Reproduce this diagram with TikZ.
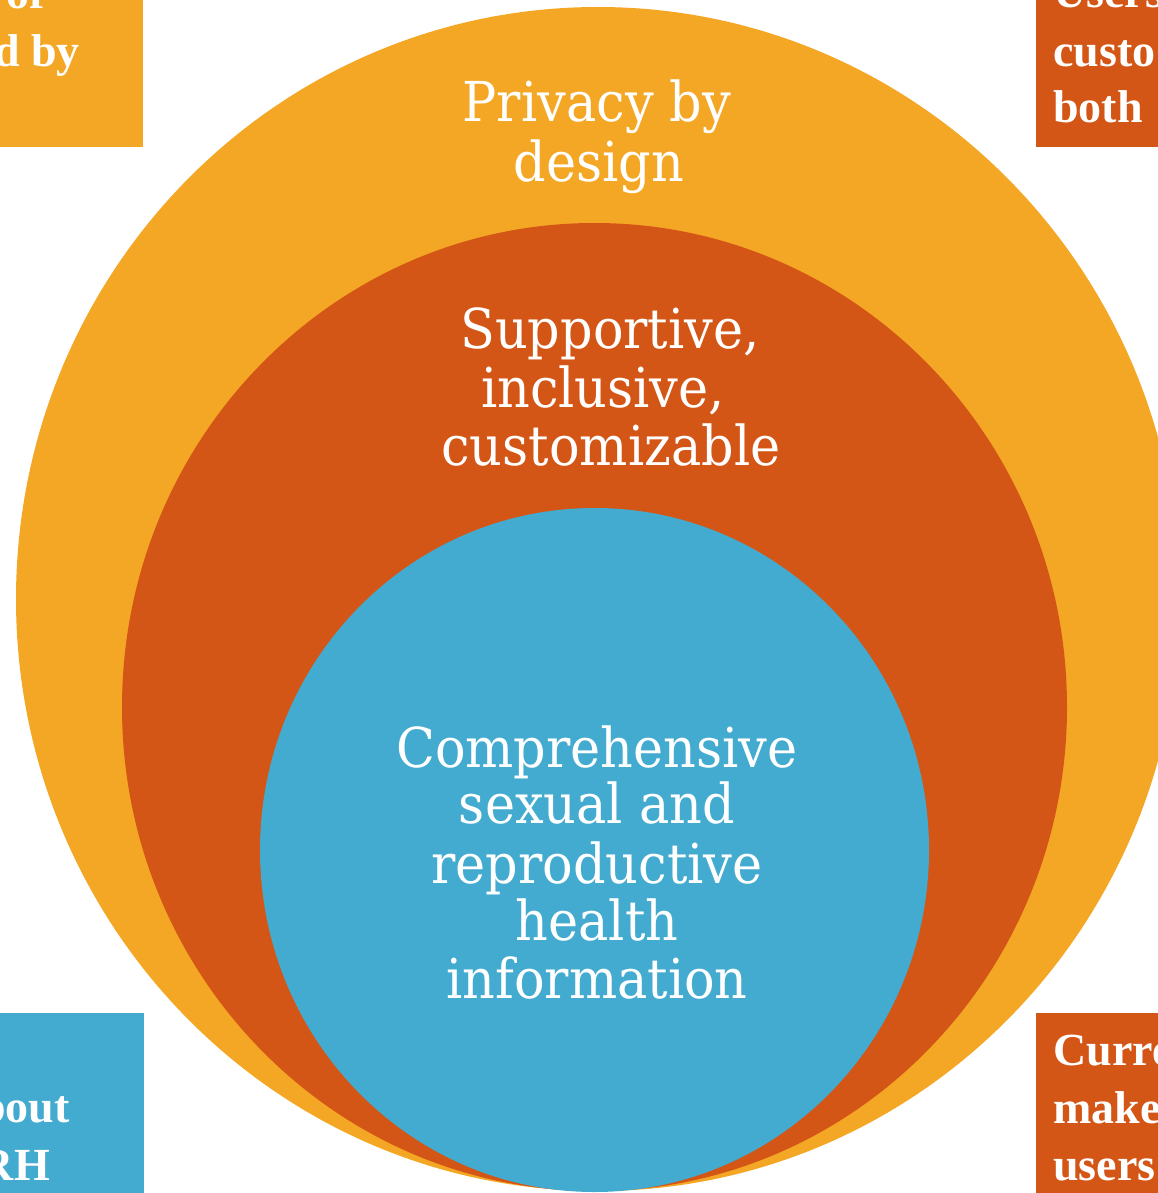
\documentclass[tikz,border=0pt]{standalone}
\usepackage{fontspec}
\setmainfont{Liberation Serif}
\newfontfamily\circfont[FakeStretch=0.925]{DejaVu Serif}
\definecolor{ringA}{RGB}{244,167,36}
\definecolor{ringB}{RGB}{212,86,22}
\definecolor{ringC}{RGB}{67,170,208}
\begin{document}
\begin{tikzpicture}[x=1pt,y=-1pt,
  circtext/.style={text=white, font=\circfont\fontsize{55}{58}\selectfont, inner sep=0pt, anchor=base},
  boxtext/.style={text=white, font=\bfseries\fontsize{46}{57}\selectfont, inner sep=0pt}]
\useasboundingbox (0,0) rectangle (1158,1193);
\clip (0,0) rectangle (1158,1193);
% corner boxes
\fill[ringA] (0,0) rectangle (143,147);
\fill[ringB] (1036,0) rectangle (1158,147);
\fill[ringC] (0,1013) rectangle (144,1193);
\fill[ringB] (1036,1013) rectangle (1158,1193);
% rings
\fill[ringA] (598,599) ellipse [x radius=582pt, y radius=592pt];
\fill[ringB] (594.5,707) ellipse [x radius=472.5pt, y radius=484pt];
\fill[ringC] (594.5,850) ellipse [x radius=334.5pt, y radius=342pt];
% ring texts
\node[circtext] (p1) at (597,122) {Privacy by};
\node[circtext] (p2) at (599,182) {design};
\node[circtext] (s1) at (610,348) {Supportive,};
\node[circtext] (s2) at (603,407) {inclusive,};
\node[circtext] (s3) at (611,465) {customizable};
\node[circtext] (c1) at (597,767) {Comprehensive};
\node[circtext] (c2) at (597,823) {sexual and};
\node[circtext] (c3) at (597,883) {reproductive};
\node[circtext] (c4) at (597,940) {health};
\node[circtext] (c5) at (597,998) {information};
% corner texts
\node[boxtext, anchor=base east] (tl1) at (45,9) {of};
\node[boxtext, anchor=base east] (tl2) at (80,67) {d by};
\node[boxtext, anchor=base west] (tr1) at (1053,8) {Users};
\node[boxtext, anchor=base west] (tr2) at (1053,67) {custo};
\node[boxtext, anchor=base west] (tr3) at (1053,123) {both};
\node[boxtext, anchor=base east] (bl1) at (70,1122) {bout};
\node[boxtext, anchor=base east] (bl2) at (50,1180) {RH};
\node[boxtext, anchor=base west] (br1) at (1053,1065) {Curre};
\node[boxtext, anchor=base west] (br2) at (1053,1123) {make};
\node[boxtext, anchor=base west] (br3) at (1053,1180) {users};
\end{tikzpicture}
\end{document}
